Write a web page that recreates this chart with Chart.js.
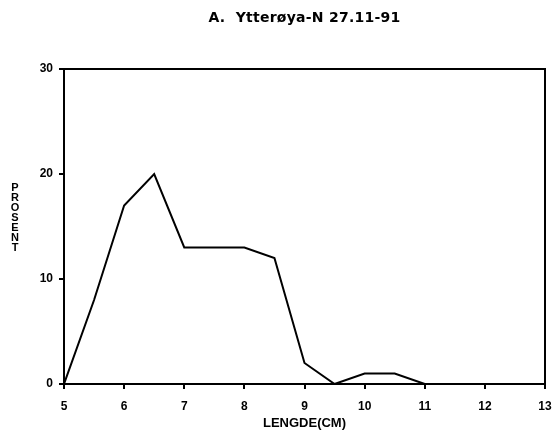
<!DOCTYPE html>
<html>
<head>
<meta charset="utf-8">
<script src="https://cdn.jsdelivr.net/npm/chart.js@4"></script>
<style>
  body { margin: 0; background: #fff; }
  #wrap { position: relative; width: 555px; height: 437px; font-family: "Liberation Sans", Arial, sans-serif; }
  #title { position: absolute; left: 64px; width: 481px; top: 9px; text-align: center;
           font-family: "DejaVu Sans", sans-serif; letter-spacing: 0.25px;
           font-weight: bold; font-size: 14px; line-height: 16px; color: #000; }
  #ytitle { position: absolute; left: 9px; width: 12px; top: 182px; text-align: center;
            font-weight: bold; font-size: 11px; line-height: 10px; color: #000; }
</style>
</head>
<body>
<div id="wrap">
  <canvas id="chart"></canvas>
  <div id="title">A.&nbsp; Ytterøya-N 27.11-91</div>
  <div id="ytitle">P<br>R<br>O<br>S<br>E<br>N<br>T</div>
</div>
<script>
// length classes (cm) and share of fish (%)
const lengths = [5, 5.5, 6, 6.5, 7, 7.5, 8, 8.5, 9, 9.5, 10, 10.5, 11];
const percent = [0, 8, 17, 20, 13, 13, 13, 12, 2, 0, 1, 1, 0];
const xTicks = [5, 6, 7, 8, 9, 10, 11, 12, 13];
const yTicks = [0, 10, 20, 30];

const tickFont = { family: 'Liberation Sans', weight: 'bold', size: 12 };

// box round the plot area
const frame = {
  id: 'frame',
  afterDraw(chart) {
    const { ctx, chartArea: a } = chart;
    ctx.save();
    ctx.strokeStyle = '#000';
    ctx.lineWidth = 2;
    ctx.strokeRect(a.left, a.top, a.right - a.left, a.bottom - a.top);
    ctx.restore();
  }
};

new Chart(document.getElementById('chart'), {
  type: 'line',
  data: {
    datasets: [{
      data: lengths.map((x, i) => ({ x: x, y: percent[i] })),
      borderColor: '#000',
      borderWidth: 2,
      pointRadius: 0,
      tension: 0,
      fill: false
    }]
  },
  options: {
    responsive: true,
    maintainAspectRatio: false,
    animation: false,
    layout: { padding: { top: 69, right: 10, bottom: 0, left: 0 } },
    plugins: { legend: { display: false }, tooltip: { enabled: false }, title: { display: false } },
    scales: {
      x: {
        type: 'linear',
        min: 5,
        max: 13,
        afterBuildTicks: s => { s.ticks = xTicks.map(v => ({ value: v })); },
        afterFit: s => { s.height = 53; s.paddingLeft = 0; s.paddingRight = 10; },
        ticks: { color: '#000', font: tickFont, padding: 10, maxRotation: 0 },
        grid: { drawOnChartArea: false, drawTicks: true, tickLength: 5, color: '#000', lineWidth: 2 },
        border: { display: true, color: '#000', width: 2 },
        title: {
          display: true,
          text: 'LENGDE(CM)',
          color: '#000',
          font: { family: 'Liberation Sans', weight: 'bold', size: 13 },
          padding: { top: 0, bottom: 6 }
        }
      },
      y: {
        min: 0,
        max: 30,
        afterBuildTicks: s => { s.ticks = yTicks.map(v => ({ value: v })); },
        afterFit: s => { s.width = 64; },
        ticks: { color: '#000', font: tickFont, padding: 6 },
        grid: { drawOnChartArea: false, drawTicks: true, tickLength: 5, color: '#000', lineWidth: 2 },
        border: { display: true, color: '#000', width: 2 }
      }
    }
  },
  plugins: [frame]
});
</script>
</body>
</html>
